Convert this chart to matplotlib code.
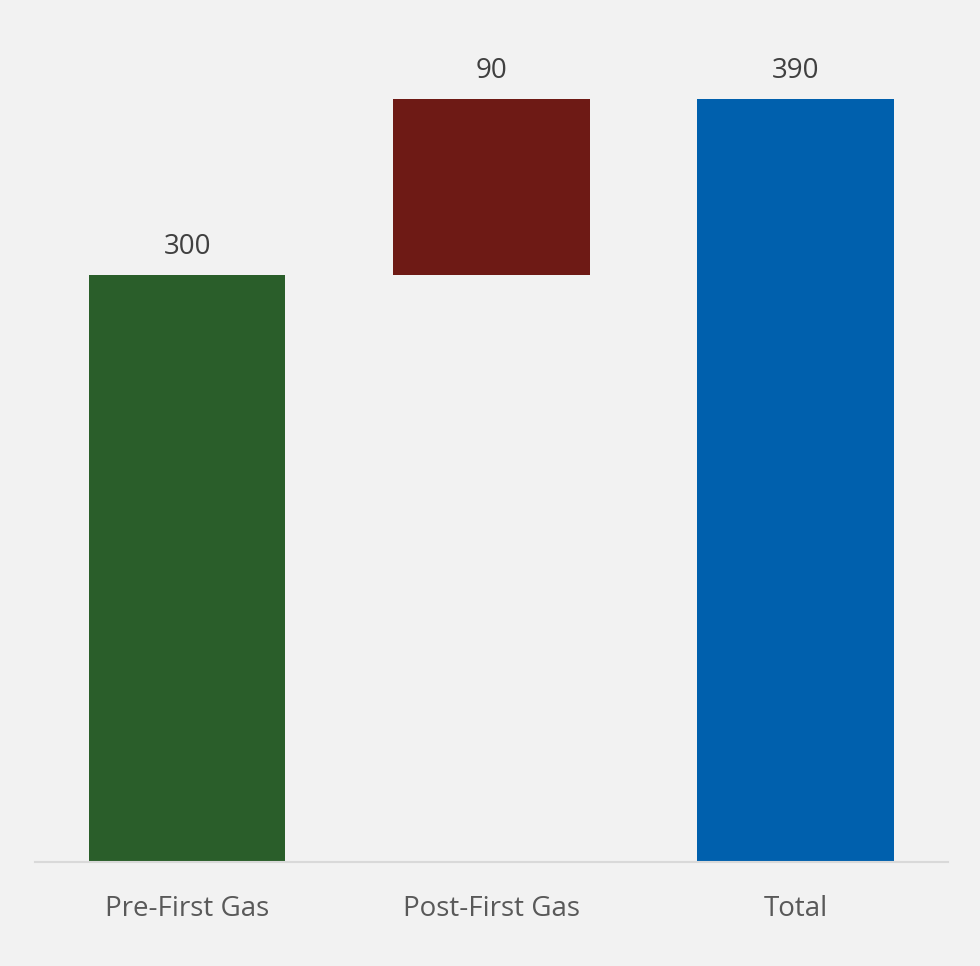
import matplotlib.pyplot as plt

# waterfall data
categories = ['Pre-First Gas', 'Post-First Gas', 'Total']
values = [300, 90, 390]
bottoms = [0, 300, 0]
colors = ['#2a5e2a', '#6e1a15', '#0060ad']

plt.rcParams['font.family'] = ['Open Sans', 'DejaVu Sans']

fig = plt.figure(figsize=(9.8, 9.66), dpi=100, facecolor='#f2f2f2')
ax = fig.add_axes([0.0357, 0.1077, 0.9316, 0.8713])
ax.set_facecolor('#f2f2f2')

x = range(len(categories))
bars = ax.bar(x, values, bottom=bottoms, width=0.646, color=colors)
for i, b in enumerate(bars):
    ax.text(b.get_x() + b.get_width() / 2, bottoms[i] + values[i] + 7, str(values[i]),
            ha='center', va='bottom', fontsize=20, color='#404040')

ax.set_xlim(-0.5, 2.5)
ax.set_ylim(0, 430)
ax.set_yticks([])
ax.set_xticks(list(x))
ax.set_xticklabels(categories, fontsize=20, color='#595959')
ax.tick_params(axis='x', length=0, pad=24)
for s in ['top', 'right', 'left']:
    ax.spines[s].set_visible(False)
ax.spines['bottom'].set_color('#d9d9d9')
ax.spines['bottom'].set_linewidth(1.5)

fig.savefig('out.png', dpi=100, facecolor=fig.get_facecolor())
